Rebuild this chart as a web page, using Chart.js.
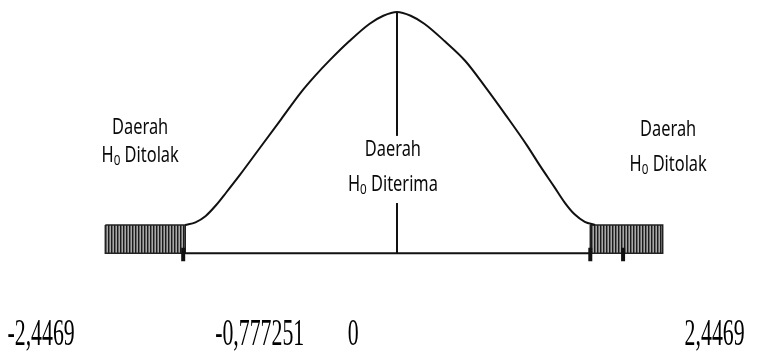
<!DOCTYPE html>
<html>
<head>
<meta charset="utf-8">
<script src="https://cdn.jsdelivr.net/npm/chart.js@4.4.1/dist/chart.umd.min.js"></script>
<style>
  html, body { margin: 0; padding: 0; background: #ffffff; }
  #wrap { width: 775px; height: 354px; }
</style>
</head>
<body>
<div id="wrap"><canvas id="dist-chart" width="775" height="354"></canvas></div>
<script>
// Bell curve (peak on the centre line, ends on the blocks)
const curveX = [-3.1, -2.95, -2.8, -2.65, -2.5, -2.3, -2.0, -1.7, -1.4, -1.2, -0.98, -0.7, -0.4, -0.2, 0,
  0.2, 0.4, 0.7, 1.0, 1.3, 1.6, 1.9, 2.1, 2.3, 2.45, 2.6, 2.75, 2.9];
const curveY = [0, 0.005, 0.017, 0.037, 0.061, 0.094, 0.146, 0.198, 0.250, 0.280, 0.310, 0.345, 0.378, 0.393, 0.400,
  0.393, 0.378, 0.345, 0.308, 0.258, 0.205, 0.150, 0.110, 0.072, 0.043, 0.020, 0.006, 0];

// Rejection blocks [from, to] and their height band
const rejectLeft = [-4.27, -3.10];
const rejectRight = [2.83, 3.89];
const blockTop = 0;
const axisLevel = -0.053;

// Tick marks on the axis
const tickX = [-3.13, 2.83, 3.31];
const tickSpan = [-0.043, -0.068];

// Value labels under the axis
const valueLabels = ['-2,4469', '-0,777251', '0', '2,4469'];

// Region texts
const regionTitles = ['Daerah', 'Daerah', 'Daerah'];
const regionNames = ['Ditolak', 'Diterima', 'Ditolak'];

// Where the texts go (data units)
const layoutText = {
  valueX: [-5.21, -2.01, -0.64, 4.65],
  valueY: -0.207,
  regionX: [-3.76, -0.06, 3.97],
  titleY: [0.182, 0.141, 0.178],
  nameY: [0.130, 0.075, 0.113],
};

// Striped fill for the blocks
const makeStripes = () => {
  const c = document.createElement('canvas');
  c.width = 3;
  c.height = 4;
  const g = c.getContext('2d');
  const cols = ['#1c1c1c', '#6a6a6a', '#a8a8a8'];
  cols.forEach((col, i) => {
    g.fillStyle = col;
    g.fillRect(i, 0, 1, 4);
  });
  return g.createPattern(c, 'repeat');
};
const stripes = makeStripes();

const pts = (xs, ys) => xs.map((x, i) => ({ x, y: ys[i] }));

const blockShape = (r) => [
  { x: r[0], y: blockTop },
  { x: r[1], y: blockTop },
  { x: r[1], y: axisLevel },
  { x: r[0], y: axisLevel },
  { x: r[0], y: blockTop },
];

const lineSet = (data, width, order) => ({
  data,
  showLine: true,
  borderColor: '#111111',
  borderWidth: width,
  pointRadius: 0,
  fill: false,
  order,
});

// draw text squeezed horizontally around (cx, cy)
const squeezed = (ctx, parts, cx, cy, sx) => {
  let w = 0;
  parts.forEach((p) => {
    ctx.font = p.font;
    p.w = ctx.measureText(p.t).width;
    w += p.w;
  });
  ctx.save();
  ctx.translate(cx, cy);
  ctx.scale(sx, 1);
  let x = -w / 2;
  parts.forEach((p) => {
    ctx.font = p.font;
    ctx.fillText(p.t, x, p.dy || 0);
    x += p.w;
  });
  ctx.restore();
};

const textPlugin = {
  id: 'regionText',
  afterDatasetsDraw(c) {
    const ctx = c.ctx;
    const xs = c.scales.x;
    const ys = c.scales.y;
    ctx.save();
    ctx.textBaseline = 'middle';
    ctx.textAlign = 'left';

    // white box behind the middle text
    const mx = xs.getPixelForValue(layoutText.regionX[1]);
    const top = ys.getPixelForValue(layoutText.titleY[1]) - 14;
    const bot = ys.getPixelForValue(layoutText.nameY[1]) + 18;
    ctx.fillStyle = '#ffffff';
    ctx.fillRect(mx - 48, top, 96, bot - top);

    ctx.fillStyle = '#0a0a0a';
    const big = '21px "Noto Sans"';
    const small = '15px "Noto Sans"';
    regionTitles.forEach((t, i) => {
      const cx = xs.getPixelForValue(layoutText.regionX[i]);
      squeezed(ctx, [{ t, font: big }], cx, ys.getPixelForValue(layoutText.titleY[i]), 0.78);
      squeezed(ctx, [
        { t: 'H', font: big },
        { t: '0', font: small, dy: 5 },
        { t: ' ' + regionNames[i], font: big },
      ], cx, ys.getPixelForValue(layoutText.nameY[i]), 0.78);
    });

    ctx.fillStyle = '#000000';
    valueLabels.forEach((t, i) => {
      squeezed(ctx, [{ t, font: '37px "Liberation Serif"' }],
        xs.getPixelForValue(layoutText.valueX[i]), ys.getPixelForValue(layoutText.valueY), 0.59);
    });
    ctx.restore();
  },
};

const ctx = document.getElementById('dist-chart');

const chart = new Chart(ctx, {
  type: 'scatter',
  data: {
    datasets: [
      ...tickX.map((x) => lineSet([{ x, y: tickSpan[0] }, { x, y: tickSpan[1] }], 4, 1)),
      lineSet([{ x: rejectLeft[1], y: axisLevel }, { x: rejectRight[0], y: axisLevel }], 2, 2),
      lineSet([{ x: 0, y: axisLevel }, { x: 0, y: Math.max(...curveY) }], 2, 2),
      {
        ...lineSet(pts(curveX, curveY), 2, 2),
        cubicInterpolationMode: 'monotone',
      },
      ...[rejectLeft, rejectRight].map((r) => ({
        ...lineSet(blockShape(r), 1.5, 3),
        fill: 'shape',
        backgroundColor: stripes,
        borderColor: '#222222',
      })),
    ],
  },
  options: {
    responsive: false,
    devicePixelRatio: 1,
    animation: false,
    layout: { padding: 0 },
    scales: {
      x: { type: 'linear', min: -5.812, max: 5.534, display: false },
      y: { type: 'linear', min: -0.2423, max: 0.4225, display: false },
    },
    plugins: {
      legend: { display: false },
      tooltip: { enabled: false },
    },
  },
  plugins: [textPlugin],
});
</script>
</body>
</html>
